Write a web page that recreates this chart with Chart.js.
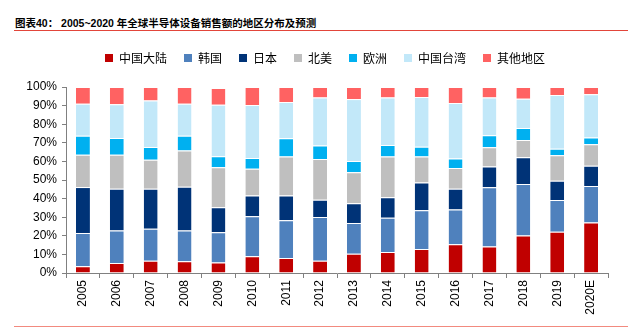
<!DOCTYPE html>
<html>
<head>
<meta charset="utf-8">
<script src="https://cdn.jsdelivr.net/npm/chart.js@4.4.1/dist/chart.umd.min.js"></script>
<style>
  html, body { margin: 0; padding: 0; background: #fff; }
  .page { position: relative; width: 640px; height: 330px; overflow: hidden; }
  .title {
    position: absolute; left: 15px; top: 15px;
    font: bold 10.5px "Liberation Sans", "Noto Sans CJK SC", sans-serif;
    color: #000; white-space: pre;
  }
  .rule-top { position: absolute; left: 14px; top: 30px; width: 614px; height: 1px; background: #e2453a; }
  .rule-bottom { position: absolute; left: 14px; top: 326px; width: 614px; height: 1px; background: #f28a7f; }
  .chart-box { position: absolute; left: 0; top: 31px; width: 640px; height: 293px; }
</style>
</head>
<body>
<div class="page">
  <div class="title">图表40： 2005~2020 年全球半导体设备销售额的地区分布及预测</div>
  <div class="rule-top"></div>
  <div class="chart-box"><canvas id="regionChart"></canvas></div>
  <div class="rule-bottom"></div>
</div>
<script>
const years = ['2005', '2006', '2007', '2008', '2009', '2010', '2011', '2012',
  '2013', '2014', '2015', '2016', '2017', '2018', '2019', '2020E']

// share of sales, %
const chinaMainland = [3.6, 5.4, 6.6, 6.3, 5.7, 9.0, 8.1, 6.6, 10.4, 11.3, 12.9, 15.4, 14.3, 20.1, 22.2, 27.1]
const korea = [17.9, 17.4, 17.2, 16.5, 16.2, 21.5, 20.2, 23.5, 16.5, 18.4, 20.8, 18.8, 31.8, 27.7, 17.0, 19.7]
const japan = [24.7, 22.5, 21.5, 23.6, 13.4, 11.1, 13.3, 9.3, 10.6, 11.0, 15.0, 11.1, 11.2, 14.4, 10.4, 10.9]
const northAmerica = [17.4, 18.3, 15.6, 19.4, 21.5, 14.5, 21.1, 21.9, 16.6, 22.0, 14.0, 11.2, 10.3, 9.3, 13.7, 11.5]
const europe = [10.2, 9.0, 6.8, 8.0, 6.0, 5.7, 9.7, 7.2, 6.1, 6.1, 5.2, 5.0, 6.4, 6.5, 3.5, 3.6]
const taiwan = [17.2, 18.1, 25.1, 17.2, 27.7, 28.5, 19.5, 25.8, 33.3, 25.5, 26.7, 29.9, 20.3, 15.7, 28.9, 23.3]
const others = [9.0, 9.3, 7.2, 9.0, 9.0, 9.7, 8.1, 5.7, 6.5, 5.7, 5.4, 8.6, 5.7, 6.3, 4.3, 3.9]

const yTicks = [0, 10, 20, 30, 40, 50, 60, 70, 80, 90, 100]

const series = [
  { label: '中国大陆', data: chinaMainland, color: '#c00000' },
  { label: '韩国', data: korea, color: '#4f81bd' },
  { label: '日本', data: japan, color: '#003377' },
  { label: '北美', data: northAmerica, color: '#bfbfbf' },
  { label: '欧洲', data: europe, color: '#00b0f0' },
  { label: '中国台湾', data: taiwan, color: '#c2e8f9' },
  { label: '其他地区', data: others, color: '#ff6262' },
]

const axisColor = '#808080'
const tickFont = { family: '"Liberation Sans", Arial, sans-serif', size: 12 }

// nudge the legend so it sits where the original one does
const legendShift = {
  id: 'legendShift',
  afterLayout(chart) {
    const lg = chart.legend
    if (!lg) return
    lg.left += 21
    lg.right += 21
    lg.top -= 13
    lg.bottom -= 13
  },
}

const ctx = document.getElementById('regionChart').getContext('2d')

new Chart(ctx, {
  type: 'bar',
  data: {
    labels: years,
    datasets: series.map((s) => ({
      label: s.label,
      data: s.data,
      backgroundColor: s.color,
      borderColor: '#ffffff',
      borderWidth: { top: 1, bottom: 0, left: 0, right: 0 },
      borderSkipped: false,
      categoryPercentage: 1,
      barPercentage: 0.41,
    })),
  },
  plugins: [legendShift],
  options: {
    responsive: true,
    maintainAspectRatio: false,
    animation: false,
    layout: { padding: { left: 0, right: 32, top: 17, bottom: 0 } },
    plugins: {
      tooltip: { enabled: false },
      legend: {
        position: 'top',
        labels: {
          boxWidth: 8,
          boxHeight: 8,
          padding: 17,
          color: '#000',
          font: { family: '"Noto Sans CJK SC", sans-serif', size: 12 },
          generateLabels: (chart) =>
            Chart.defaults.plugins.legend.labels.generateLabels(chart).map((item) => ({
              ...item,
              strokeStyle: item.fillStyle,
              lineWidth: 0,
            })),
        },
      },
    },
    scales: {
      x: {
        stacked: true,
        offset: true,
        grid: {
          offset: true,
          drawOnChartArea: false,
          drawTicks: true,
          tickLength: 5,
          color: axisColor,
        },
        border: { color: axisColor, width: 1 },
        ticks: {
          color: '#000',
          font: tickFont,
          minRotation: 90,
          maxRotation: 90,
          autoSkip: false,
          padding: 2,
        },
        afterFit: (scale) => { scale.height = 51 },
      },
      y: {
        stacked: true,
        min: 0,
        max: 100,
        afterBuildTicks: (scale) => { scale.ticks = yTicks.map((v) => ({ value: v })) },
        grid: {
          drawOnChartArea: false,
          drawTicks: true,
          tickLength: 4,
          color: axisColor,
        },
        border: { color: axisColor, width: 1 },
        ticks: {
          color: '#000',
          font: tickFont,
          padding: 5,
          callback: (v) => v + '%',
        },
        afterFit: (scale) => { scale.width = 66 },
      },
    },
  },
})
</script>
</body>
</html>
